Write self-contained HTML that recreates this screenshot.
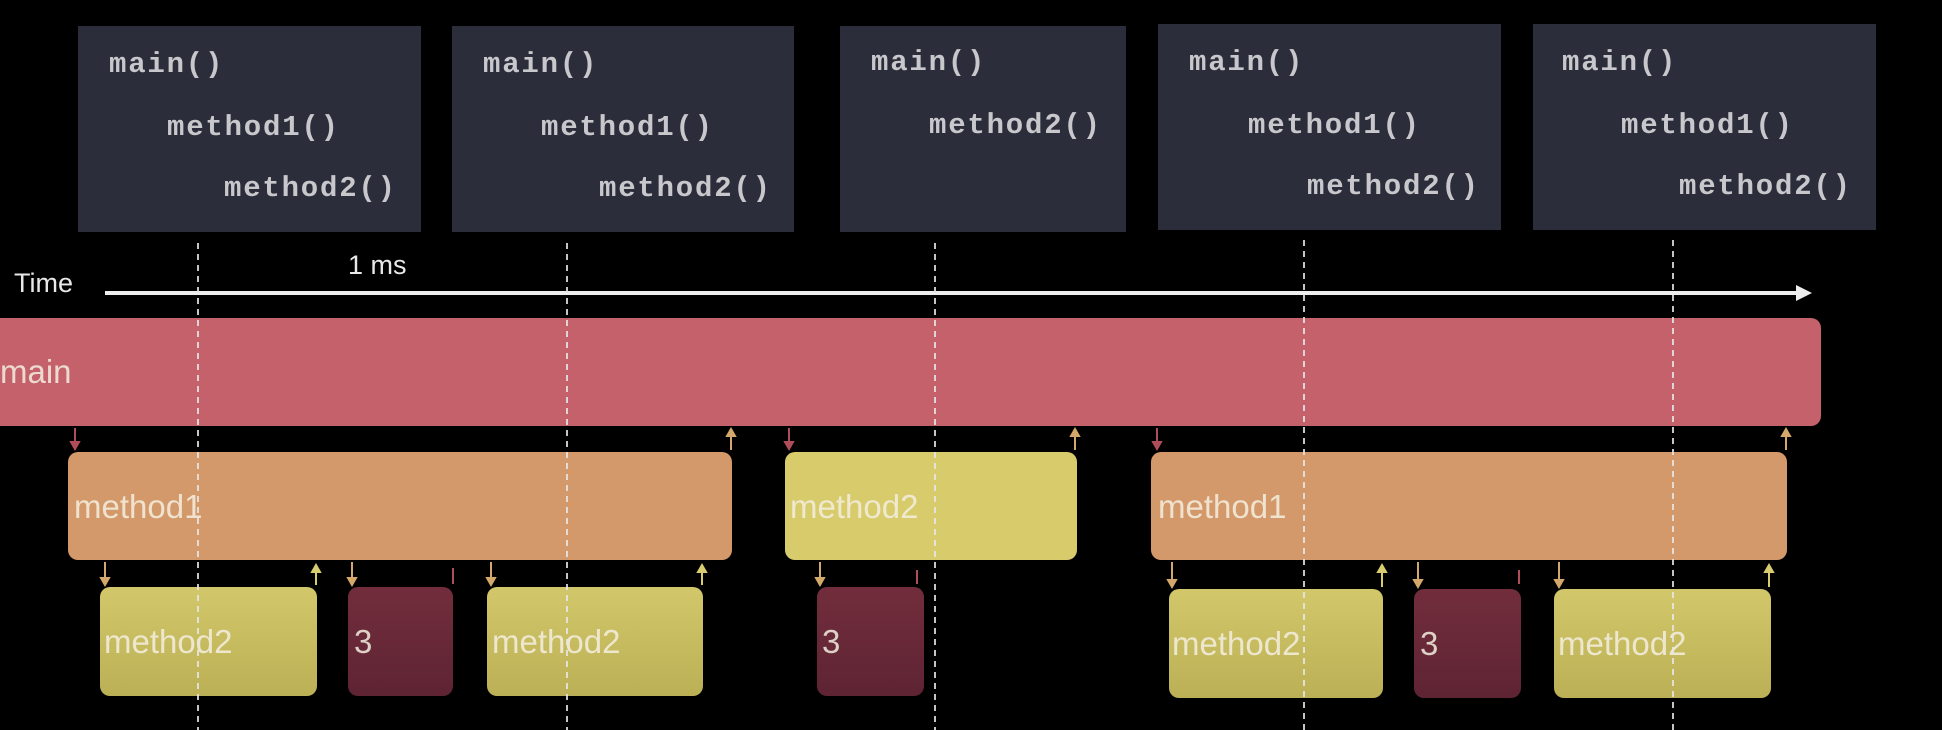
<!DOCTYPE html>
<html><head><meta charset="utf-8"><style>
html,body{margin:0;padding:0;background:#000;}
svg{display:block;}
.code{font-family:"Liberation Mono",monospace;font-size:29px;font-weight:bold;fill:#c8c8cc;letter-spacing:1.8px;}
.lbl{font-family:"Liberation Sans",sans-serif;font-size:33px;fill:#f3eee0;fill-opacity:0.85;}
</style></head><body>
<svg width="1942" height="730" viewBox="0 0 1942 730" xmlns="http://www.w3.org/2000/svg">
<defs>
<linearGradient id="yg" x1="0" y1="0" x2="0" y2="1"><stop offset="0" stop-color="#d2c76a"/><stop offset="1" stop-color="#bcb056"/></linearGradient>
<linearGradient id="rg" x1="0" y1="0" x2="0" y2="1"><stop offset="0" stop-color="#722d3c"/><stop offset="1" stop-color="#5e2434"/></linearGradient>
</defs>
<rect width="1942" height="730" fill="#000"/>
<!-- code boxes -->
<g fill="#2c2d3b">
<rect x="78" y="26" width="343" height="206"/>
<rect x="452" y="26" width="342" height="206"/>
<rect x="840" y="26" width="286" height="206"/>
<rect x="1158" y="24" width="343" height="206"/>
<rect x="1533" y="24" width="343" height="206"/>
</g>
<g class="code">
<text x="109" y="72">main()</text><text x="167" y="135">method1()</text><text x="224" y="196">method2()</text>
<text x="483" y="72">main()</text><text x="541" y="135">method1()</text><text x="599" y="196">method2()</text>
<text x="871" y="70">main()</text><text x="929" y="133">method2()</text>
<text x="1189" y="70">main()</text><text x="1248" y="133">method1()</text><text x="1307" y="194">method2()</text>
<text x="1562" y="70">main()</text><text x="1621" y="133">method1()</text><text x="1679" y="194">method2()</text>
</g>
<!-- time axis -->
<text x="14" y="292" font-family="Liberation Sans,sans-serif" font-size="27" fill="#e8e8e8">Time</text>
<text x="348" y="274" font-family="Liberation Sans,sans-serif" font-size="27" fill="#e8e8e8">1 ms</text>
<line x1="105" y1="293" x2="1798" y2="293" stroke="#eee" stroke-width="4"/>
<polygon points="1796,285 1812,293 1796,301" fill="#eee"/>
<!-- bars -->
<rect x="-20" y="318" width="1841" height="108" rx="10" fill="#c4616a"/>
<text class="lbl" x="0" y="383">main</text>
<rect x="68" y="452" width="664" height="108" rx="10" fill="#d4996a"/>
<rect x="785" y="452" width="292" height="108" rx="10" fill="#d8cb6c"/>
<rect x="1151" y="452" width="636" height="108" rx="10" fill="#d4996a"/>
<text class="lbl" x="74" y="518">method1</text>
<text class="lbl" x="790" y="518">method2</text>
<text class="lbl" x="1158" y="518">method1</text>
<g>
<rect x="100" y="587" width="217" height="109" rx="10" fill="url(#yg)"/>
<rect x="348" y="587" width="105" height="109" rx="10" fill="url(#rg)"/>
<rect x="487" y="587" width="216" height="109" rx="10" fill="url(#yg)"/>
<rect x="817" y="587" width="107" height="109" rx="10" fill="url(#rg)"/>
<rect x="1169" y="589" width="214" height="109" rx="10" fill="url(#yg)"/>
<rect x="1414" y="589" width="107" height="109" rx="10" fill="url(#rg)"/>
<rect x="1554" y="589" width="217" height="109" rx="10" fill="url(#yg)"/>
</g>
<g class="lbl">
<text x="104" y="653">method2</text><text x="354" y="653">3</text><text x="492" y="653">method2</text>
<text x="822" y="653">3</text><text x="1172" y="655">method2</text><text x="1420" y="655">3</text><text x="1558" y="655">method2</text>
</g>
<!-- connectors -->
<g stroke-width="2">
<g stroke="#b04d5a" fill="#b04d5a">
<line x1="75" y1="428" x2="75" y2="446"/><polygon points="71,442 79,442 75,449"/>
<line x1="789" y1="428" x2="789" y2="446"/><polygon points="785,442 793,442 789,449"/>
<line x1="1157" y1="428" x2="1157" y2="446"/><polygon points="1153,442 1161,442 1157,449"/>
<line x1="917" y1="570" x2="917" y2="584"/>
<line x1="453" y1="568" x2="453" y2="584"/>
<line x1="1519" y1="570" x2="1519" y2="584"/>
</g>
<g stroke="#d4a86a" fill="#d4a86a">
<line x1="731" y1="432" x2="731" y2="450"/><polygon points="727,436 735,436 731,429"/>
<line x1="1075" y1="432" x2="1075" y2="450"/><polygon points="1071,436 1079,436 1075,429"/>
<line x1="1786" y1="432" x2="1786" y2="450"/><polygon points="1782,436 1790,436 1786,429"/>
<line x1="105" y1="562" x2="105" y2="582"/><polygon points="101,578 109,578 105,585"/>
<line x1="352" y1="562" x2="352" y2="582"/><polygon points="348,578 356,578 352,585"/>
<line x1="491" y1="562" x2="491" y2="582"/><polygon points="487,578 495,578 491,585"/>
<line x1="820" y1="562" x2="820" y2="582"/><polygon points="816,578 824,578 820,585"/>
<line x1="1172" y1="562" x2="1172" y2="584"/><polygon points="1168,580 1176,580 1172,587"/>
<line x1="1418" y1="562" x2="1418" y2="584"/><polygon points="1414,580 1422,580 1418,587"/>
<line x1="1559" y1="562" x2="1559" y2="584"/><polygon points="1555,580 1563,580 1559,587"/>
</g>
<g stroke="#d8cc70" fill="#d8cc70">
<line x1="316" y1="568" x2="316" y2="585"/><polygon points="312,572 320,572 316,565"/>
<line x1="702" y1="568" x2="702" y2="585"/><polygon points="698,572 706,572 702,565"/>
<line x1="1382" y1="568" x2="1382" y2="587"/><polygon points="1378,572 1386,572 1382,565"/>
<line x1="1769" y1="568" x2="1769" y2="587"/><polygon points="1765,572 1773,572 1769,565"/>
</g>
</g>
<!-- dashed time lines -->
<g stroke="#e8e8e8" stroke-width="2" stroke-dasharray="6,5" opacity="0.85">
<line x1="198" y1="243" x2="198" y2="730"/>
<line x1="567" y1="243" x2="567" y2="730"/>
<line x1="935" y1="243" x2="935" y2="730"/>
<line x1="1304" y1="240" x2="1304" y2="730"/>
<line x1="1673" y1="240" x2="1673" y2="730"/>
</g>
</svg>
</body></html>
